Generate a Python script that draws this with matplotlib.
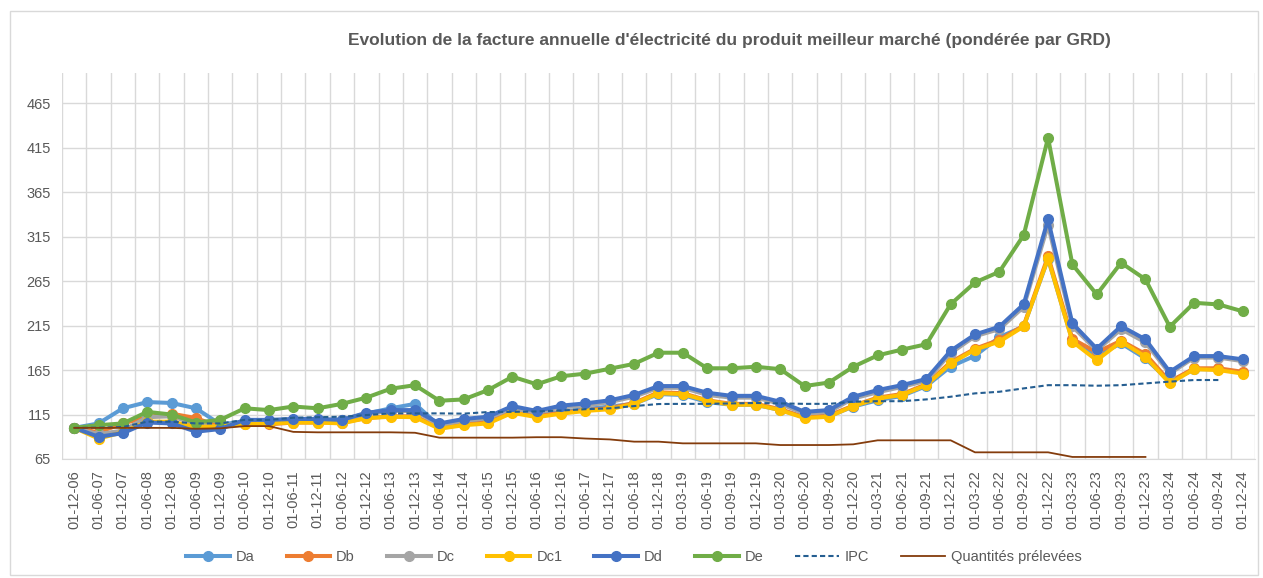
import numpy as np
import matplotlib.pyplot as plt
from matplotlib.patches import Rectangle

plt.rcParams['font.family'] = ['Liberation Sans Narrow', 'Liberation Sans', 'DejaVu Sans']

dates = ["01-12-06", "01-06-07", "01-12-07", "01-06-08", "01-12-08", "01-06-09", "01-12-09",
         "01-06-10", "01-12-10", "01-06-11", "01-12-11", "01-06-12", "01-12-12", "01-06-13",
         "01-12-13", "01-06-14", "01-12-14", "01-06-15", "01-12-15", "01-06-16", "01-12-16",
         "01-06-17", "01-12-17", "01-06-18", "01-12-18", "01-03-19", "01-06-19", "01-09-19",
         "01-12-19", "01-03-20", "01-06-20", "01-09-20", "01-12-20", "01-03-21", "01-06-21",
         "01-09-21", "01-12-21", "01-03-22", "01-06-22", "01-09-22", "01-12-22", "01-03-23",
         "01-06-23", "01-09-23", "01-12-23", "01-03-24", "01-06-24", "01-09-24", "01-12-24"]

da = [100, 105, 122, 129, 128, 122, 104, 107, 107, 108, 108, 109, 116, 122, 127, 102, 106,
      108, 119, 114, 118, 121, 124, 127, 138, 137, 129, 126, 126, 120, 112, 113, 124, 131,
      136, 147, 169, 181, 202, 214, 290, 198, 181, 195, 178, 152, 166, 166, 162]
db = [100, 95, 105, 112, 116, 111, 101, 104, 104, 106, 106, 106, 111, 113, 113, 100, 104,
      106, 118, 113, 117, 120, 122, 128, 140, 139, 131, 127, 127, 121, 112, 114, 125, 134,
      138, 149, 174, 189, 199, 215, 293, 200, 185, 198, 183, 152, 167, 167, 163]
dc = [100, 93, 97, 112, 113, 104, 101, 107, 107, 108, 108, 109, 116, 119, 119, 103, 108,
      111, 122, 117, 123, 125, 129, 135, 145, 145, 137, 134, 134, 127, 116, 118, 133, 140,
      146, 153, 184, 203, 211, 236, 328, 214, 187, 211, 196, 161, 179, 179, 175]
dc1 = [100, 88, 95, 107, 107, 101, 102, 104, 105, 106, 106, 105, 111, 112.5, 112, 99, 103,
       105, 117, 112, 116, 119, 121, 127, 139, 138, 130.5, 126, 126, 120, 111, 112.5, 124.5,
       133, 137, 148, 172.5, 188, 197, 214, 290.5, 197, 176, 197, 180, 150, 166, 165, 161]
dd = [100, 90, 94, 106, 105, 95.7, 98.7, 109, 109, 110, 110, 109, 117, 120, 120, 105, 110,
      112.5, 124.5, 119, 125, 127.5, 131, 137, 147, 147, 139.5, 136, 136, 129.4, 118, 120,
      135, 142.5, 148, 155, 186.7, 205, 213.7, 239, 334.3, 217.5, 189, 214.4, 199.5, 163,
      180.7, 180.7, 177]
de = [100, 103, 105, 118, 115, 106, 109, 122, 120, 124, 122, 127, 134, 144, 148, 130.5, 132,
      142.5, 157.5, 149, 158, 161, 166.5, 172, 184.5, 184.5, 167, 167, 168.7, 166, 147, 151,
      168.7, 181.5, 188, 194, 239, 263.5, 275.5, 316.7, 426, 283.7, 250, 285.6, 267, 213.7,
      240.6, 238.8, 231]
ipc = [100, 100.2, 101, 107, 107, 105, 105, 109, 109, 111.4, 112, 112.5, 114.4, 116.3, 116.3,
       116.3, 116, 117.8, 118, 118.5, 119.5, 121, 122, 124.5, 126.8, 127, 127, 127.5, 128,
       127.5, 127, 127, 129.4, 130, 130, 132, 135, 138.8, 140.6, 144.4, 148, 148, 147.4, 148,
       150, 152, 153.8, 153.8]
quantites = [100, 100, 100, 100, 100, 99, 99.5, 102, 102, 95.5, 95, 95, 95, 95, 94.5, 89, 89,
             89, 89, 89.5, 89.5, 88, 87, 84.5, 84.5, 82.6, 82.6, 82.6, 82.6, 80.7, 80.7, 80.7,
             81.5, 86, 86, 86, 86, 72.5, 72.5, 72.5, 72.5, 67.3, 67.3, 67.3, 67.3]

series = [("Da", da, "#5B9BD5"), ("Db", db, "#ED7D31"), ("Dc", dc, "#A5A5A5"),
          ("Dc1", dc1, "#FFC000"), ("Dd", dd, "#4472C4"), ("De", de, "#70AD47")]

fig = plt.figure(figsize=(12.63, 5.78), dpi=100)
fig.patches.append(Rectangle((10 / 1263, 3 / 578), 1248 / 1263, 564 / 578,
                             transform=fig.transFigure, fill=False,
                             edgecolor="#D9D9D9", linewidth=1))
ax = fig.add_axes([62 / 1263, 1 - 459 / 578, 1193 / 1263, 386 / 578])

x = np.arange(len(dates))
for name, vals, col in series:
    ax.plot(x, vals, color=col, lw=2.9, marker="o", ms=7, label=name,
            solid_joinstyle="round")
ax.plot(np.arange(len(ipc)), ipc, color="#255E91", lw=1.5, ls=(0, (2.5, 1.5)), label="IPC")
ax.plot(np.arange(len(quantites)), quantites, color="#843C0C", lw=1.3,
        label="Quantités prélevées")

ax.set_xlim(-0.5, len(dates) - 0.5)
ax.set_ylim(65, 499)
ax.set_yticks(np.arange(65, 466, 50))
ax.set_xticks(x)
ax.set_xticklabels(dates, rotation=90, fontsize=10.5, color="#595959")
ax.set_xticks(np.arange(-0.5, len(dates), 1), minor=True)
ax.tick_params(axis="y", labelsize=10.5, labelcolor="#595959", length=0, pad=8)
ax.tick_params(axis="x", which="both", length=0, pad=8)
ax.grid(axis="y", color="#D9D9D9", lw=1)
ax.grid(axis="x", which="minor", color="#D9D9D9", lw=1)
ax.set_axisbelow(True)
for side in ["top", "right", "left"]:
    ax.spines[side].set_visible(False)
ax.spines["bottom"].set_color("#D9D9D9")

fig.text(729 / 1263, 1 - 40 / 578, "Evolution de la facture annuelle d'électricité du produit "
         "meilleur marché (pondérée par GRD)", ha="center", va="center",
         fontsize=12.5, fontweight="bold", color="#595959")

fig.legend(loc="center", bbox_to_anchor=(634 / 1263, 1 - 557 / 578), ncol=8,
           frameon=False, fontsize=10.5, handlelength=3.0, handletextpad=0.4,
           columnspacing=2.2, labelcolor="#595959")

fig.savefig("out.png", dpi=100)
